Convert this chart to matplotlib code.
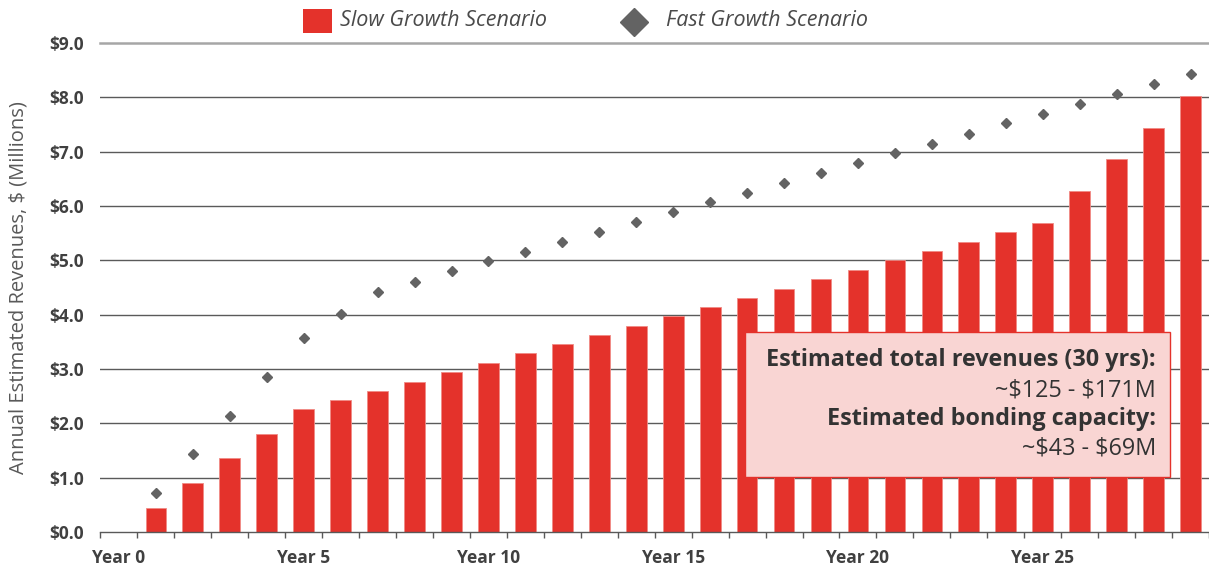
import matplotlib
matplotlib.use("Agg")
import matplotlib.pyplot as plt
import numpy as np
from matplotlib.patches import Rectangle
from matplotlib.lines import Line2D

plt.rcParams['font.family'] = ['Open Sans', 'DejaVu Sans']
plt.rcParams['text.parse_math'] = False

years = list(range(0, 30))
year_labels = ["Year 0", "Year 5", "Year 10", "Year 15", "Year 20", "Year 25"]
label_positions = [0, 5, 10, 15, 20, 25]

slow_growth = [np.nan, 0.45, 0.91, 1.36, 1.81, 2.26, 2.43, 2.60, 2.77, 2.94,
               3.11, 3.29, 3.46, 3.63, 3.80, 3.97, 4.14, 4.31, 4.48, 4.66,
               4.83, 5.00, 5.17, 5.34, 5.52, 5.69, 6.28, 6.86, 7.44, 8.02]
fast_growth = [np.nan, 0.72, 1.43, 2.14, 2.85, 3.57, 4.01, 4.42, 4.61, 4.80,
               4.99, 5.16, 5.33, 5.52, 5.70, 5.89, 6.07, 6.24, 6.43, 6.61,
               6.79, 6.97, 7.15, 7.33, 7.52, 7.69, 7.88, 8.06, 8.24, 8.43]
y_ticks = [0, 1, 2, 3, 4, 5, 6, 7, 8, 9]

RED = '#E4322B'
GRAY = '#636363'
TXT = '#404040'

fig = plt.figure(figsize=(12.09, 5.69), dpi=100)
ax = fig.add_axes([0.0831, 0.065, 0.9169, 0.8594])

ax.bar(years, slow_growth, width=0.56, color=RED, edgecolor='#F08A85', linewidth=0.6, zorder=3)
ax.plot(years, fast_growth, linestyle='none', marker='D', markersize=5.6,
        color=GRAY, zorder=4)

ax.set_xlim(-0.5, 29.5)
ax.set_ylim(0, 9)
ax.set_yticks(y_ticks)
ax.set_yticklabels([f"${v:.1f}" for v in y_ticks], fontsize=12.5, fontweight='bold', color=TXT)
ax.tick_params(axis='y', length=0, pad=12)

ax.set_xticks(label_positions)
ax.set_xticklabels(year_labels, fontsize=12.5, fontweight='bold', color=TXT)
ax.set_xticks(np.arange(-0.5, 30, 1), minor=True)
ax.tick_params(axis='x', which='major', length=0, pad=12)
ax.tick_params(axis='x', which='minor', length=4, width=1, color='#595959')

for v in y_ticks[1:-1]:
    ax.axhline(v, color='#5a5a5a', linewidth=1.0, zorder=1)
ax.axhline(9, color='#a6a6a6', linewidth=1.8, zorder=1, clip_on=False)

for s in ['top', 'right', 'left']:
    ax.spines[s].set_visible(False)
ax.spines['bottom'].set_color('#595959')
ax.spines['bottom'].set_linewidth(1.0)
ax.spines['bottom'].set_zorder(5)

ax.set_ylabel("Annual Estimated Revenues, $ (Millions)", fontsize=14.5, color='#595959')
ax.yaxis.set_label_coords(-0.0645, 0.5)

# Legend (figure coordinates, pixels converted)
W, H = 1209.0, 569.0
fig.patches.append(Rectangle((303 / W, 1 - 33 / H), 29 / W, 24 / H, transform=fig.transFigure,
                             facecolor=RED, edgecolor='none'))
fig.text(340 / W, 1 - 21 / H, "Slow Growth Scenario", fontsize=15.5, style='italic',
         color='#4a4a4a', va='center', ha='left')
fig.add_artist(Line2D([634 / W], [1 - 21.5 / H], marker='D', markersize=14.5, color=GRAY,
                      linestyle='none', transform=fig.transFigure))
fig.text(666 / W, 1 - 21 / H, "Fast Growth Scenario", fontsize=15.5, style='italic',
         color='#4a4a4a', va='center', ha='left')

# Annotation box
fig.patches.append(Rectangle((744.5 / W, 1 - 477 / H), (1169.7 - 744.5) / W, (477 - 332) / H,
                             transform=fig.transFigure, facecolor='#F9D5D3',
                             edgecolor='#E4322B', linewidth=1.0, zorder=10))
lines = [("Estimated total revenues (30 yrs):", 'bold', 360),
         ("~$125 - $171M", 'normal', 390),
         ("Estimated bonding capacity:", 'bold', 419),
         ("~$43 - $69M", 'normal', 449)]
for t, w, yy in lines:
    fig.text(1156 / W, 1 - yy / H, t, fontsize=16.8, fontweight=w, color='#333333',
             ha='right', va='center', zorder=11)

fig.savefig("out.png", dpi=100)
